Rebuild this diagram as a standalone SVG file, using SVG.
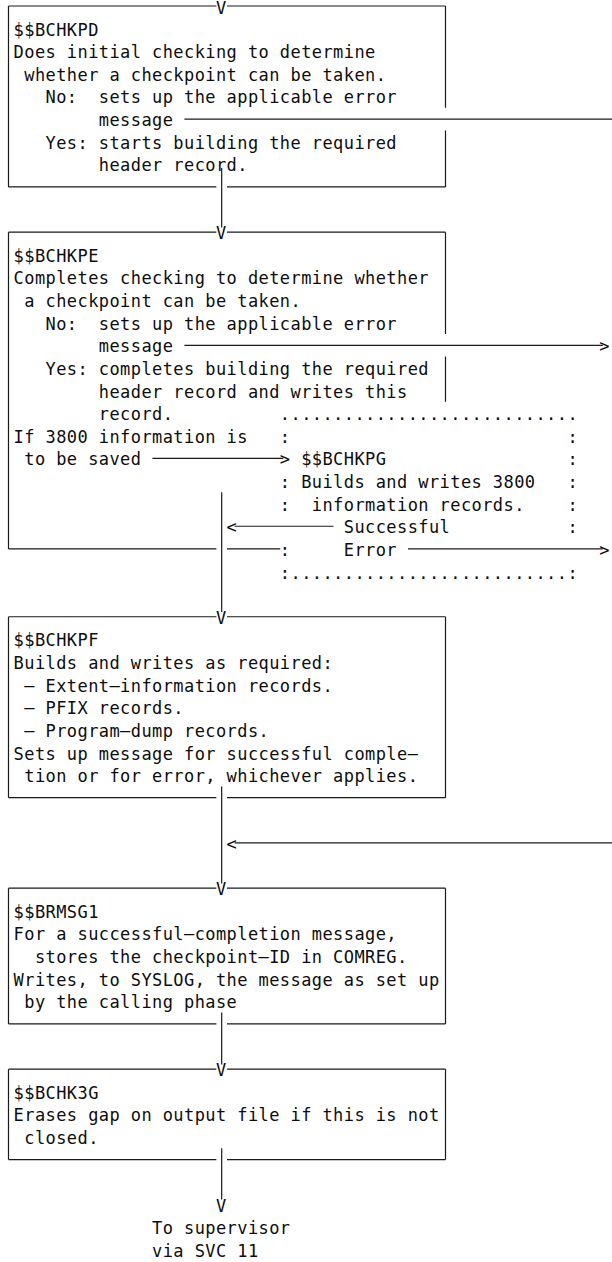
<svg xmlns="http://www.w3.org/2000/svg" width="612" height="1262" viewBox="0 0 612 1262" xml:space="preserve">
  <style>
    text { font-family: "DejaVu Sans Mono", "Liberation Mono", monospace; font-size: 17px; letter-spacing: 0.415px; fill: #0d0d0d; }
    .frame { fill: none; stroke: #1a1a1a; stroke-width: 1.2; }
    .ln { fill: none; stroke: #1a1a1a; stroke-width: 1.2; }
  </style>
  <rect width="612" height="1262" fill="#fff"/>

  <!-- phase $$BCHKPD -->
  <g id="node-bchkpd">
    <path class="frame" d="M8.5,6 H216.35 M227,6 H445.5 M8.5,6 V186.96 M445.5,6 V107.8 M445.5,130.4 V186.96 M8.5,186.96 H216.35 M227,186.96 H445.5"/>
    <text x="13.6" y="35.6">$$BCHKPD</text>
    <text x="13.6" y="58.2">Does initial checking to determine</text>
    <text x="24.25" y="80.8">whether a checkpoint can be taken.</text>
    <text x="45.55" y="103.4">No:</text>
    <text x="98.8" y="103.4">sets up the applicable error</text>
    <text x="98.8" y="126.1">message</text>
    <text x="45.55" y="148.7">Yes:</text>
    <text x="98.8" y="148.7">starts building the required</text>
    <text x="98.8" y="171.3">header record.</text>
  </g>

  <!-- phase $$BCHKPE -->
  <g id="node-bchkpe">
    <path class="frame" d="M8.5,232.2 H216.35 M227,232.2 H445.5 M8.5,232.2 V548.88 M445.5,232.2 V334 M445.5,356.6 V401.85 M8.5,548.88 H216.35 M227,548.88 H280.25"/>
    <text x="13.6" y="261.8">$$BCHKPE</text>
    <text x="13.6" y="284.4">Completes checking to determine whether</text>
    <text x="24.25" y="307">a checkpoint can be taken.</text>
    <text x="45.55" y="329.7">No:</text>
    <text x="98.8" y="329.7">sets up the applicable error</text>
    <text x="98.8" y="352.3">message</text>
    <text x="45.55" y="374.9">Yes:</text>
    <text x="98.8" y="374.9">completes building the required</text>
    <text x="98.8" y="397.5">header record and writes this</text>
    <text x="98.8" y="420.1">record.</text>
    <text x="13.6" y="442.8">If 3800 information is</text>
    <text x="24.25" y="465.4">to be saved</text>
  </g>

  <!-- phase $$BCHKPG, framed with dots and colons -->
  <g id="node-bchkpg">
    <text x="279.85" y="420.1">............................</text>
    <text x="279.85" y="442.8">:</text>
    <text x="567.4" y="442.8">:</text>
    <text x="301.15" y="465.4">$$BCHKPG</text>
    <text x="567.4" y="465.4">:</text>
    <text x="279.85" y="488">:</text>
    <text x="301.15" y="488">Builds and writes 3800</text>
    <text x="567.4" y="488">:</text>
    <text x="279.85" y="510.6">:</text>
    <text x="311.8" y="510.6">information records.</text>
    <text x="567.4" y="510.6">:</text>
    <text x="567.4" y="533.2">:</text>
    <text x="279.85" y="555.9">:</text>
    <text x="279.85" y="578.5">:..........................:</text>
  </g>

  <!-- phase $$BCHKPF -->
  <g id="node-bchkpf">
    <path class="frame" d="M8.5,616.74 H216.35 M227,616.74 H445.5 M8.5,616.74 V797.7 M445.5,616.74 V797.7 M8.5,797.7 H216.35 M227,797.7 H445.5"/>
    <text x="13.6" y="646.4">$$BCHKPF</text>
    <text x="13.6" y="669">Builds and writes as required:</text>
    <text x="24.25" y="691.6">– Extent–information records.</text>
    <text x="24.25" y="714.2">– PFIX records.</text>
    <text x="24.25" y="736.8">– Program–dump records.</text>
    <text x="13.6" y="759.5">Sets up message for successful comple–</text>
    <text x="24.25" y="782.1">tion or for error, whichever applies.</text>
  </g>

  <!-- phase $$BRMSG1 -->
  <g id="node-brmsg1">
    <path class="frame" d="M8.5,888.18 H216.35 M227,888.18 H445.5 M8.5,888.18 V1023.9 M445.5,888.18 V1023.9 M8.5,1023.9 H216.35 M227,1023.9 H445.5"/>
    <text x="13.6" y="917.8">$$BRMSG1</text>
    <text x="13.6" y="940.4">For a successful–completion message,</text>
    <text x="34.9" y="963">stores the checkpoint–ID in COMREG.</text>
    <text x="13.6" y="985.7">Writes, to SYSLOG, the message as set up</text>
    <text x="24.25" y="1008.3">by the calling phase</text>
  </g>

  <!-- phase $$BCHK3G -->
  <g id="node-bchk3g">
    <path class="frame" d="M8.5,1069.14 H216.35 M227,1069.14 H445.5 M8.5,1069.14 V1159.62 M445.5,1069.14 V1159.62 M8.5,1159.62 H216.35 M227,1159.62 H445.5"/>
    <text x="13.6" y="1098.8">$$BCHK3G</text>
    <text x="13.6" y="1121.4">Erases gap on output file if this is not</text>
    <text x="24.25" y="1144">closed.</text>
  </g>

  <!-- exit to the supervisor -->
  <g id="node-supervisor">
    <text x="152.05" y="1234.4">To supervisor</text>
    <text x="152.05" y="1257">via SVC 11</text>
  </g>

  <!-- flow lines, arrowheads and exit labels -->
  <g id="connectors">
    <path class="ln" d="M221.68,168 V227.5"/>
    <path class="ln" d="M221.68,492.33 V612"/>
    <path class="ln" d="M221.68,786.4 V883.5"/>
    <path class="ln" d="M221.68,1012.6 V1064.4"/>
    <path class="ln" d="M221.68,1148.3 V1199.5"/>
    <text x="215.95" y="14">V</text>
    <text x="215.95" y="239.2">V</text>
    <text x="215.95" y="623.7">V</text>
    <text x="215.95" y="895.2">V</text>
    <text x="215.95" y="1076.1">V</text>
    <text x="215.95" y="1211.8">V</text>

    <!-- error exits to the right -->
    <path class="ln" d="M184.4,119.1 H612"/>
    <path class="ln" d="M184.4,345.3 H602.75"/>
    <text x="599.35" y="352.3">&gt;</text>

    <!-- 3800 information branch -->
    <path class="ln" d="M152.45,458.4 H283.25"/>
    <text x="279.85" y="465.4">&gt;</text>

    <!-- return from $$BCHKPG -->
    <path class="ln" d="M234.65,526.26 H333.5"/>
    <text x="226.6" y="533.2">&lt;</text>
    <text x="343.75" y="533.2">Successful</text>
    <text x="343.75" y="555.9">Error</text>
    <path class="ln" d="M408.05,548.88 H602.75"/>
    <text x="599.35" y="555.9">&gt;</text>

    <!-- error path coming back in -->
    <path class="ln" d="M234.65,842.94 H612"/>
    <text x="226.6" y="849.9">&lt;</text>
  </g>
</svg>
